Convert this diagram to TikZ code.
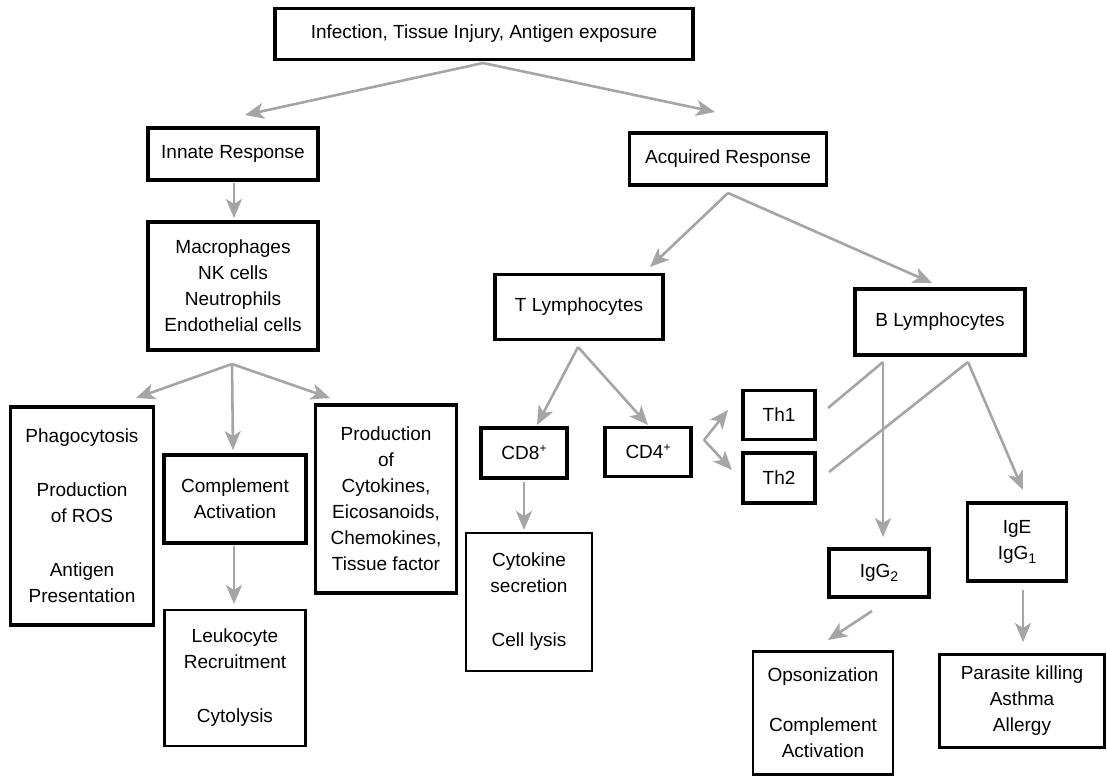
\documentclass[tikz,border=0pt]{standalone}
\usepackage{fontspec}
\setmainfont{Liberation Sans}
\usetikzlibrary{arrows.meta}
\usetikzlibrary{positioning}

\definecolor{arrowgray}{RGB}{165,165,165}
\newcommand{\lowsub}[1]{\raisebox{-4pt}{\fontsize{14}{14}\selectfont #1}}
\newcommand{\highsup}[1]{\raisebox{7pt}{\fontsize{12}{12}\selectfont #1}}
\tikzset{
  box/.style={draw=black,line width=3.4pt,align=center,inner sep=0pt,
    font=\fontsize{19}{26}\selectfont},
  thinbox/.style={box,line width=2.6pt}
}

\begin{document}
\begin{tikzpicture}[->,>={Stealth[length=19pt,width=16pt,inset=5pt]},x=1pt,y=-1pt,
    every edge/.style={draw=arrowgray,line width=2.6pt}]
        \useasboundingbox (0,0) rectangle (1107,777);

            % Top node
            \node[box,minimum width=418pt,minimum height=51pt] (cause) at (484,34) {Infection, Tissue Injury, Antigen exposure};

            % Innate branch
            \node[box,minimum width=170pt,minimum height=52pt] (innate) at (233,154) {Innate Response};
            \node[box,minimum width=170pt,minimum height=128pt] (cells) at (233,286) {Macrophages\\NK cells\\Neutrophils\\Endothelial cells};
            \node[box,minimum width=143pt,minimum height=218pt] (phago) at (82,516) {Phagocytosis\\[28pt]Production\\of ROS\\[28pt]Antigen\\Presentation};
            \node[box,minimum width=142pt,minimum height=88pt] (compl) at (235,499) {Complement\\Activation};
            \node[thinbox,minimum width=141pt,minimum height=136pt] (leuko) at (235,678) {Leukocyte\\Recruitment\\[28pt]Cytolysis};
            \node[box,minimum width=141pt,minimum height=188pt] (prod) at (386,499) {Production\\of\\Cytokines,\\Eicosanoids,\\Chemokines,\\Tissue factor};

            % Acquired branch
            \node[box,minimum width=197pt,minimum height=52pt] (acquired) at (728,159) {Acquired Response};
            \node[box,minimum width=168pt,minimum height=65pt] (tlym) at (579,307) {T Lymphocytes};
            \node[box,minimum width=170pt,minimum height=66pt] (blym) at (940,322) {B Lymphocytes};
            \node[box,minimum width=86pt,minimum height=50pt] (cd8) at (524,453) {CD8\highsup{+}};
            \node[box,minimum width=86pt,minimum height=49pt] (cd4) at (648,452) {CD4\highsup{+}};
            \node[thinbox,minimum width=126pt,minimum height=138pt] (lysis) at (529,602) {Cytokine\\secretion\\[28pt]Cell lysis};
            \node[box,minimum width=72pt,minimum height=49pt] (th1) at (779,415) {Th1};
            \node[box,minimum width=72pt,minimum height=50pt] (th2) at (779,478) {Th2};
            \node[box,minimum width=100pt,minimum height=48pt] (igg2) at (879,573) {IgG\lowsub{2}};
            \node[box,minimum width=99pt,minimum height=78pt] (ige) at (1017,542) {IgE\\IgG\lowsub{1}};
            \node[thinbox,minimum width=140pt,minimum height=123pt] (opso) at (823,713) {Opsonization\\[24pt]Complement\\Activation};
            \node[thinbox,minimum width=165pt,minimum height=93pt] (parasite) at (1022,701) {Parasite killing\\Asthma\\Allergy};

            % Branch points and arrow ends
            \coordinate (s0) at (483,63);
            \coordinate (toinnate) at (245,115);
            \coordinate (toacq) at (715,112);
            \coordinate (sinn) at (234,183);
            \coordinate (tocells) at (234,218);
            \coordinate (scells) at (232,364);
            \coordinate (tophago) at (136,398);
            \coordinate (tocompl) at (233,450);
            \coordinate (toprod) at (330,398);
            \coordinate (scompl) at (234,546);
            \coordinate (toleuko) at (234,604);
            \coordinate (sacq) at (728,193);
            \coordinate (totlym) at (650,267);
            \coordinate (toblym) at (932,283);
            \coordinate (stlym) at (578,347);
            \coordinate (tocd8) at (537,425);
            \coordinate (tocd4) at (648,425);
            \coordinate (scd8) at (524,482);
            \coordinate (tolysis) at (524,530);
            \coordinate (scd4) at (704,440);
            \coordinate (toth1) at (728,410);
            \coordinate (toth2) at (732,470);
            \coordinate (sth1) at (828,408);
            \coordinate (sth2) at (829,472);
            \coordinate (bleft) at (883,362);
            \coordinate (bright) at (968,362);
            \coordinate (toigg2) at (883,537);
            \coordinate (toige) at (1023,490);
            \coordinate (sigg2) at (872,611);
            \coordinate (toopso) at (828,640);
            \coordinate (sige) at (1023,590);
            \coordinate (topara) at (1023,642);

            % Arrows, innate side
            \path (s0) edge (toinnate);
            \path (s0) edge (toacq);
            \path (sinn) edge (tocells);
            \path (scells) edge (tophago);
            \path (scells) edge (tocompl);
            \path (scells) edge (toprod);
            \path (scompl) edge (toleuko);

            % Arrows, acquired side
            \path (sacq) edge (totlym);
            \path (sacq) edge (toblym);
            \path (stlym) edge (tocd8);
            \path (stlym) edge (tocd4);
            \path (scd8) edge (tolysis);
            \path (scd4) edge (toth1);
            \path (scd4) edge (toth2);
            \path (sth1) edge[-] (bleft);
            \path (sth2) edge[-] (bright);
            \path (bleft) edge (toigg2);
            \path (bright) edge (toige);
            \path (sigg2) edge (toopso);
            \path (sige) edge (topara);

        \end{tikzpicture}
\end{document}
